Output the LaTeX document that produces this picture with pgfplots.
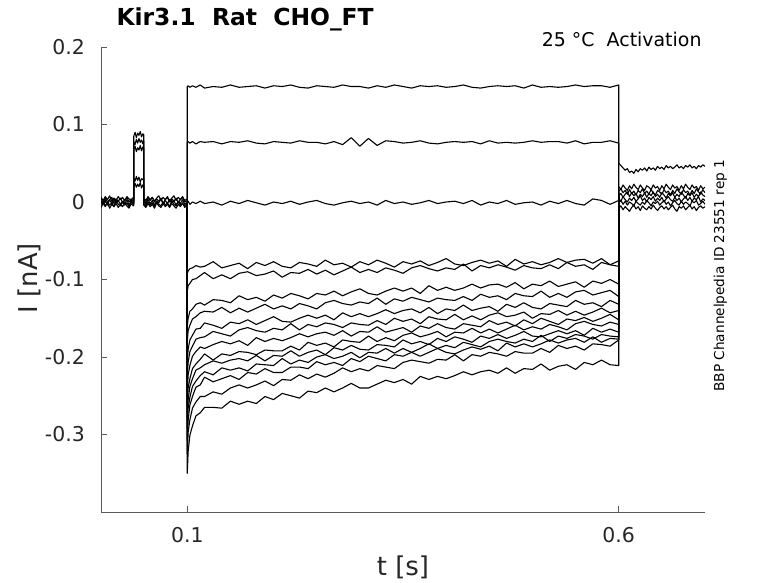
\documentclass[border=0pt]{standalone}
\usepackage{fontspec}
\setmainfont{DejaVu Sans}
\usepackage{pgfplots}
\usepackage{pgfplotstable}
\pgfplotsset{compat=1.18}
\pgfplotsset{trace/.style={black, line width=1.1bp, line join=round, mark=none}}

\pgfplotstableread{
t a b c d e
0.0000 0.004 -0.003 0.001 0.006 -0.007
0.0025 -0.001 0.001 -0.003 0.002 -0.002
0.0050 0.005 -0.005 0.002 0.007 -0.006
0.0075 0.000 0.000 -0.004 0.003 -0.001
0.0100 0.003 -0.004 0.003 0.008 -0.008
0.0125 0.006 -0.001 -0.002 0.001 -0.003
0.0150 -0.002 -0.006 0.004 0.005 -0.006
0.0175 0.004 0.002 -0.001 0.002 -0.002
0.0200 0.001 -0.003 0.002 0.007 -0.007
0.0225 0.005 -0.005 -0.003 0.003 -0.003
0.0250 -0.001 0.000 0.001 0.006 -0.006
0.0275 0.003 -0.004 -0.002 0.001 -0.001
0.0300 0.006 -0.001 0.003 0.007 -0.005
0.0325 0.000 -0.006 -0.004 0.004 -0.008
0.0350 0.004 0.001 0.002 0.002 -0.002
0.0375 0.001 -0.003 -0.001 0.006 -0.005
0.0380 0.002 -0.002 0.000 0.004 -0.004
0.0380 0.085 0.078 0.068 0.031 0.021
0.0395 0.090 0.074 0.072 0.027 0.024
0.0410 0.083 0.081 0.065 0.033 0.019
0.0425 0.089 0.076 0.070 0.028 0.023
0.0440 0.086 0.082 0.067 0.032 0.020
0.0455 0.091 0.077 0.073 0.026 0.025
0.0470 0.084 0.080 0.066 0.030 0.018
0.0485 0.088 0.075 0.071 0.029 0.022
0.0495 0.087 0.079 0.069 0.031 0.021
0.0495 0.003 -0.002 0.001 0.005 -0.004
0.0520 -0.001 -0.005 -0.003 0.002 -0.007
0.0545 0.005 0.000 0.003 0.007 -0.002
0.0570 0.002 -0.004 -0.002 0.003 -0.006
0.0595 0.006 -0.001 0.002 0.006 -0.003
0.0620 0.000 -0.006 -0.004 0.001 -0.008
0.0645 0.004 0.001 0.001 0.005 -0.001
0.0670 0.001 -0.003 -0.001 0.008 -0.005
0.0695 0.005 -0.005 0.004 0.002 -0.007
0.0720 -0.002 0.000 -0.003 0.006 -0.002
0.0745 0.003 -0.004 0.002 0.003 -0.006
0.0770 0.006 -0.001 -0.002 0.007 -0.003
0.0795 0.000 -0.006 0.003 0.001 -0.007
0.0820 0.004 0.002 -0.001 0.005 -0.002
0.0845 0.001 -0.003 0.002 0.008 -0.005
0.0870 0.005 -0.005 -0.004 0.002 -0.008
0.0895 -0.001 0.000 0.001 0.006 -0.003
0.0920 0.003 -0.004 -0.002 0.003 -0.006
0.0945 0.006 -0.002 0.003 0.007 -0.001
0.0970 0.000 -0.005 -0.003 0.002 -0.007
0.1000 0.002 -0.002 0.000 0.004 -0.004
}\pretab

\pgfplotstableread{
t p1 p2 p3 n1 n2 n3 n4 n5 n6 n7 n8 n9 n10 n11 n12 n13
0.100 0.000 0.000 0.000 0.000 0.000 0.000 0.000 0.000 0.000 0.000 0.000 0.000 0.000 0.000 0.000 0.000
0.100 0.149 0.077 -0.001 -0.092 -0.115 -0.160 -0.180 -0.205 -0.225 -0.245 -0.262 -0.278 -0.292 -0.308 -0.325 -0.350
0.101 0.150 0.078 0.001 -0.089 -0.108 -0.150 -0.166 -0.190 -0.207 -0.223 -0.240 -0.255 -0.266 -0.282 -0.297 -0.322
0.103 0.148 0.076 -0.003 -0.086 -0.105 -0.141 -0.159 -0.178 -0.193 -0.211 -0.228 -0.238 -0.252 -0.262 -0.281 -0.301
0.106 0.150 0.078 0.000 -0.085 -0.100 -0.138 -0.151 -0.172 -0.186 -0.199 -0.215 -0.228 -0.238 -0.251 -0.266 -0.289
0.110 0.148 0.075 -0.002 -0.082 -0.099 -0.132 -0.148 -0.164 -0.177 -0.193 -0.209 -0.217 -0.231 -0.239 -0.258 -0.276
0.115 0.151 0.078 0.001 -0.084 -0.095 -0.130 -0.143 -0.163 -0.175 -0.187 -0.203 -0.214 -0.224 -0.236 -0.251 -0.272
0.12 0.147 0.077 -0.002 -0.083 -0.091 -0.133 -0.141 -0.156 -0.174 -0.189 -0.196 -0.210 -0.219 -0.226 -0.251 -0.265
0.13 0.149 0.078 0.000 -0.077 -0.099 -0.126 -0.142 -0.159 -0.167 -0.184 -0.204 -0.205 -0.223 -0.232 -0.245 -0.265
0.14 0.148 0.075 -0.004 -0.085 -0.094 -0.127 -0.136 -0.163 -0.170 -0.180 -0.196 -0.208 -0.214 -0.228 -0.248 -0.266
0.15 0.151 0.078 0.001 -0.082 -0.099 -0.130 -0.143 -0.155 -0.173 -0.183 -0.198 -0.204 -0.217 -0.224 -0.240 -0.257
0.16 0.148 0.077 -0.002 -0.079 -0.092 -0.121 -0.137 -0.157 -0.165 -0.179 -0.193 -0.202 -0.214 -0.229 -0.236 -0.261
0.17 0.149 0.079 0.002 -0.086 -0.090 -0.126 -0.142 -0.152 -0.162 -0.185 -0.194 -0.205 -0.218 -0.220 -0.240 -0.257
0.18 0.150 0.076 -0.001 -0.078 -0.095 -0.123 -0.137 -0.158 -0.166 -0.175 -0.197 -0.198 -0.209 -0.222 -0.236 -0.260
0.19 0.147 0.075 -0.004 -0.082 -0.093 -0.128 -0.132 -0.153 -0.168 -0.180 -0.191 -0.205 -0.210 -0.215 -0.231 -0.251
0.20 0.150 0.078 0.000 -0.077 -0.089 -0.120 -0.138 -0.148 -0.163 -0.176 -0.192 -0.198 -0.211 -0.220 -0.237 -0.255
0.21 0.149 0.077 -0.002 -0.083 -0.097 -0.124 -0.134 -0.154 -0.165 -0.179 -0.192 -0.199 -0.202 -0.220 -0.229 -0.247
0.22 0.151 0.076 0.001 -0.085 -0.091 -0.118 -0.138 -0.155 -0.157 -0.175 -0.186 -0.192 -0.209 -0.213 -0.230 -0.250
0.23 0.148 0.079 -0.003 -0.078 -0.092 -0.121 -0.131 -0.150 -0.165 -0.170 -0.191 -0.199 -0.204 -0.213 -0.223 -0.253
0.24 0.147 0.077 0.000 -0.080 -0.087 -0.125 -0.134 -0.146 -0.158 -0.174 -0.181 -0.194 -0.207 -0.215 -0.228 -0.244
0.25 0.150 0.077 0.002 -0.083 -0.093 -0.118 -0.138 -0.150 -0.161 -0.170 -0.185 -0.191 -0.200 -0.206 -0.222 -0.246
0.26 0.149 0.075 -0.002 -0.075 -0.088 -0.120 -0.130 -0.146 -0.156 -0.168 -0.182 -0.197 -0.197 -0.210 -0.226 -0.240
0.27 0.148 0.078 -0.004 -0.081 -0.094 -0.115 -0.127 -0.152 -0.158 -0.172 -0.187 -0.188 -0.202 -0.207 -0.221 -0.245
0.28 0.151 0.074 -0.001 -0.079 -0.089 -0.121 -0.131 -0.143 -0.162 -0.166 -0.178 -0.191 -0.199 -0.211 -0.214 -0.240
0.29 0.149 0.083 0.001 -0.084 -0.084 -0.116 -0.133 -0.148 -0.156 -0.173 -0.180 -0.185 -0.194 -0.202 -0.219 -0.234
0.30 0.149 0.072 -0.002 -0.077 -0.091 -0.112 -0.129 -0.144 -0.158 -0.167 -0.181 -0.190 -0.201 -0.206 -0.215 -0.240
0.31 0.147 0.082 0.000 -0.081 -0.087 -0.118 -0.131 -0.148 -0.159 -0.168 -0.173 -0.191 -0.194 -0.199 -0.218 -0.240
0.32 0.150 0.073 -0.004 -0.075 -0.091 -0.120 -0.124 -0.144 -0.153 -0.161 -0.180 -0.184 -0.195 -0.202 -0.211 -0.235
0.33 0.148 0.079 0.002 -0.079 -0.085 -0.115 -0.132 -0.139 -0.158 -0.168 -0.175 -0.185 -0.189 -0.205 -0.213 -0.230
0.34 0.151 0.078 -0.002 -0.084 -0.088 -0.111 -0.125 -0.144 -0.150 -0.165 -0.179 -0.187 -0.195 -0.197 -0.215 -0.233
0.35 0.149 0.076 0.000 -0.077 -0.092 -0.115 -0.128 -0.140 -0.154 -0.162 -0.172 -0.178 -0.189 -0.199 -0.207 -0.229
0.36 0.147 0.077 -0.003 -0.080 -0.085 -0.111 -0.123 -0.138 -0.151 -0.168 -0.169 -0.183 -0.194 -0.194 -0.204 -0.235
0.37 0.150 0.079 -0.001 -0.076 -0.082 -0.118 -0.126 -0.143 -0.157 -0.160 -0.174 -0.180 -0.189 -0.199 -0.206 -0.225
0.38 0.149 0.076 0.002 -0.082 -0.086 -0.108 -0.129 -0.136 -0.148 -0.163 -0.171 -0.184 -0.183 -0.194 -0.208 -0.229
0.39 0.150 0.075 -0.002 -0.078 -0.089 -0.114 -0.124 -0.144 -0.151 -0.157 -0.167 -0.176 -0.189 -0.189 -0.203 -0.225
0.40 0.148 0.077 0.000 -0.073 -0.085 -0.110 -0.126 -0.138 -0.152 -0.162 -0.174 -0.180 -0.185 -0.194 -0.204 -0.228
0.41 0.149 0.078 0.001 -0.080 -0.087 -0.114 -0.127 -0.140 -0.145 -0.164 -0.168 -0.174 -0.188 -0.196 -0.197 -0.224
0.42 0.151 0.077 -0.002 -0.082 -0.080 -0.111 -0.122 -0.133 -0.152 -0.157 -0.169 -0.177 -0.181 -0.191 -0.205 -0.219
0.43 0.148 0.078 0.002 -0.078 -0.089 -0.106 -0.127 -0.140 -0.147 -0.159 -0.163 -0.181 -0.184 -0.187 -0.197 -0.223
0.44 0.147 0.075 -0.004 -0.075 -0.082 -0.111 -0.119 -0.137 -0.152 -0.161 -0.169 -0.173 -0.187 -0.190 -0.199 -0.219
0.45 0.149 0.079 0.000 -0.079 -0.085 -0.107 -0.123 -0.135 -0.146 -0.153 -0.164 -0.176 -0.180 -0.186 -0.194 -0.217
0.46 0.150 0.076 -0.002 -0.076 -0.081 -0.106 -0.121 -0.141 -0.143 -0.158 -0.169 -0.171 -0.177 -0.192 -0.196 -0.221
0.47 0.149 0.077 0.002 -0.083 -0.084 -0.110 -0.126 -0.132 -0.148 -0.155 -0.164 -0.176 -0.180 -0.182 -0.199 -0.214
0.48 0.150 0.076 -0.003 -0.074 -0.088 -0.104 -0.118 -0.136 -0.146 -0.160 -0.159 -0.172 -0.182 -0.187 -0.193 -0.221
0.49 0.147 0.077 -0.001 -0.080 -0.082 -0.112 -0.121 -0.130 -0.142 -0.152 -0.165 -0.167 -0.177 -0.183 -0.195 -0.215
0.50 0.151 0.079 0.000 -0.077 -0.085 -0.106 -0.122 -0.136 -0.150 -0.157 -0.161 -0.173 -0.180 -0.187 -0.195 -0.216
0.51 0.148 0.077 -0.004 -0.081 -0.086 -0.108 -0.115 -0.138 -0.144 -0.150 -0.164 -0.174 -0.172 -0.183 -0.189 -0.209
0.52 0.149 0.078 0.001 -0.078 -0.081 -0.102 -0.123 -0.131 -0.145 -0.154 -0.158 -0.170 -0.180 -0.178 -0.194 -0.217
0.53 0.148 0.078 -0.002 -0.073 -0.086 -0.109 -0.118 -0.133 -0.140 -0.158 -0.161 -0.166 -0.173 -0.182 -0.185 -0.212
0.54 0.149 0.076 0.002 -0.078 -0.078 -0.106 -0.123 -0.135 -0.146 -0.151 -0.165 -0.170 -0.176 -0.178 -0.189 -0.210
0.55 0.151 0.079 -0.002 -0.075 -0.083 -0.103 -0.116 -0.127 -0.141 -0.153 -0.157 -0.166 -0.171 -0.176 -0.186 -0.216
0.56 0.149 0.075 -0.004 -0.074 -0.081 -0.110 -0.114 -0.132 -0.146 -0.149 -0.154 -0.172 -0.173 -0.181 -0.191 -0.207
0.57 0.150 0.077 0.004 -0.079 -0.087 -0.102 -0.120 -0.130 -0.142 -0.154 -0.158 -0.163 -0.177 -0.174 -0.183 -0.210
0.58 0.150 0.077 0.002 -0.073 -0.078 -0.105 -0.117 -0.135 -0.137 -0.150 -0.160 -0.168 -0.171 -0.181 -0.184 -0.204
0.59 0.148 0.079 -0.003 -0.081 -0.081 -0.100 -0.114 -0.127 -0.143 -0.145 -0.155 -0.164 -0.173 -0.176 -0.186 -0.210
0.60 0.151 0.076 0.002 -0.076 -0.083 -0.106 -0.122 -0.132 -0.140 -0.152 -0.158 -0.168 -0.174 -0.177 -0.178 -0.211
0.60 0.048 0.018 0.013 0.009 0.005 0.000 -0.005 0.015 0.010 0.007 0.003 0.020 0.012 0.008 -0.002 0.004
}\steptab

\pgfplotstableread{
t q1 q2 q3 q4 q5 q6 q7
0.6000 0.050 0.020 0.014 0.008 0.004 -0.001 -0.008
0.6025 0.047 0.016 0.017 0.011 0.001 0.002 -0.005
0.6050 0.044 0.022 0.012 0.006 0.007 -0.003 -0.010
0.6075 0.041 0.018 0.015 0.010 0.003 0.001 -0.006
0.6100 0.043 0.015 0.010 0.013 0.000 -0.004 -0.009
0.6125 0.038 0.021 0.016 0.007 0.005 0.000 -0.012
0.6150 0.040 0.017 0.011 0.012 0.002 -0.002 -0.007
0.6175 0.037 0.023 0.014 0.008 0.006 -0.005 -0.004
0.6200 0.042 0.019 0.009 0.011 0.001 0.001 -0.009
0.6225 0.039 0.016 0.015 0.005 0.004 -0.002 -0.006
0.6250 0.043 0.022 0.012 0.010 0.008 -0.004 -0.011
0.6275 0.041 0.018 0.017 0.007 0.002 0.000 -0.005
0.6300 0.044 0.015 0.011 0.012 0.005 -0.003 -0.008
0.6325 0.040 0.021 0.014 0.006 0.000 0.002 -0.010
0.6350 0.045 0.019 0.010 0.011 0.006 -0.001 -0.006
0.6375 0.042 0.016 0.016 0.008 0.003 -0.005 -0.009
0.6400 0.044 0.022 0.012 0.013 0.007 0.000 -0.004
0.6425 0.041 0.018 0.009 0.007 0.001 -0.002 -0.008
0.6450 0.046 0.020 0.015 0.010 0.005 0.001 -0.011
0.6475 0.043 0.015 0.013 0.006 0.002 -0.004 -0.007
0.6500 0.045 0.021 0.010 0.012 0.006 -0.001 -0.005
0.6525 0.042 0.017 0.016 0.009 0.000 0.002 -0.009
0.6550 0.047 0.023 0.012 0.005 0.004 -0.003 -0.006
0.6575 0.044 0.019 0.014 0.011 0.007 0.000 -0.010
0.6600 0.046 0.016 0.009 0.008 0.003 -0.005 -0.007
0.6625 0.043 0.022 0.015 0.012 0.001 -0.001 -0.004
0.6650 0.045 0.018 0.011 0.006 0.006 0.002 -0.009
0.6675 0.048 0.020 0.017 0.010 0.002 -0.002 -0.012
0.6700 0.044 0.015 0.013 0.007 0.005 -0.004 -0.006
0.6725 0.046 0.021 0.010 0.013 0.000 0.001 -0.008
0.6750 0.043 0.017 0.016 0.009 0.004 -0.003 -0.005
0.6775 0.047 0.023 0.012 0.005 0.007 0.000 -0.010
0.6800 0.045 0.019 0.014 0.011 0.002 -0.002 -0.007
0.6825 0.048 0.016 0.009 0.008 0.006 -0.005 -0.004
0.6850 0.044 0.022 0.015 0.012 0.001 0.001 -0.009
0.6875 0.046 0.018 0.011 0.006 0.005 -0.001 -0.006
0.6900 0.043 0.020 0.017 0.010 0.003 0.002 -0.011
0.6925 0.047 0.015 0.013 0.007 0.007 -0.004 -0.007
0.6950 0.045 0.021 0.010 0.013 0.000 -0.002 -0.005
0.6975 0.048 0.017 0.016 0.009 0.004 0.001 -0.008
0.7000 0.046 0.019 0.012 0.007 0.002 -0.003 -0.006
}\posttab

\begin{document}
\begin{tikzpicture}
\useasboundingbox (0,0) rectangle (778bp,583bp);
\begin{axis}[
  at={(101bp,71bp)}, anchor=south west, scale only axis,
  width=604bp, height=465bp,
  xmin=0, xmax=0.7, ymin=-0.4, ymax=0.2,
  axis x line*=bottom, axis y line*=left,
  axis line style={black!65, line width=0.6bp, -},
  xtick={0.1,0.6}, xticklabels={0.1,0.6},
  ytick={-0.3,-0.2,-0.1,0,0.1,0.2},
  yticklabels={-0.3,-0.2,-0.1,0,0.1,0.2},
  tick style={black!65, line width=0.6bp},
  major tick length=6bp,
  tick align=inside,
  ticklabel style={font=\fontsize{20.5}{24}\selectfont, text=black!85},
  yticklabel style={anchor=east, inner sep=0pt, xshift=-16bp},
  xticklabel style={anchor=north, inner sep=0pt, yshift=-15bp},
]
\pgfplotsinvokeforeach{a,b,c,d,e}{\addplot[trace] table[x=t,y=#1]{\pretab};}
\pgfplotsinvokeforeach{p1,p2,p3,n1,n2,n3,n4,n5,n6,n7,n8,n9,n10,n11,n12,n13}{\addplot[trace] table[x=t,y=#1]{\steptab};}
\pgfplotsinvokeforeach{q1,q2,q3,q4,q5,q6,q7}{\addplot[trace] table[x=t,y=#1]{\posttab};}
\end{axis}
\node[anchor=base west, font=\bfseries\fontsize{23.5}{28}\selectfont] at (113bp,557bp) {Kir3.1\ \ Rat\ \ CHO\_FT};
\node[anchor=base east, font=\fontsize{19}{23}\selectfont] at (705bp,536bp) {25 °C\ \ Activation};
\node[rotate=90, anchor=base, font=\fontsize{26}{30}\selectfont, text=black!85] at (37bp,305bp) {I [nA]};
\node[anchor=base, font=\fontsize{26}{30}\selectfont, text=black!85] at (403bp,7.5bp) {t [s]};
\node[rotate=90, anchor=base west, font=\fontsize{13.7}{16}\selectfont] at (724bp,188bp) {BBP Channelpedia ID 23551 rep 1};
\end{tikzpicture}
\end{document}
